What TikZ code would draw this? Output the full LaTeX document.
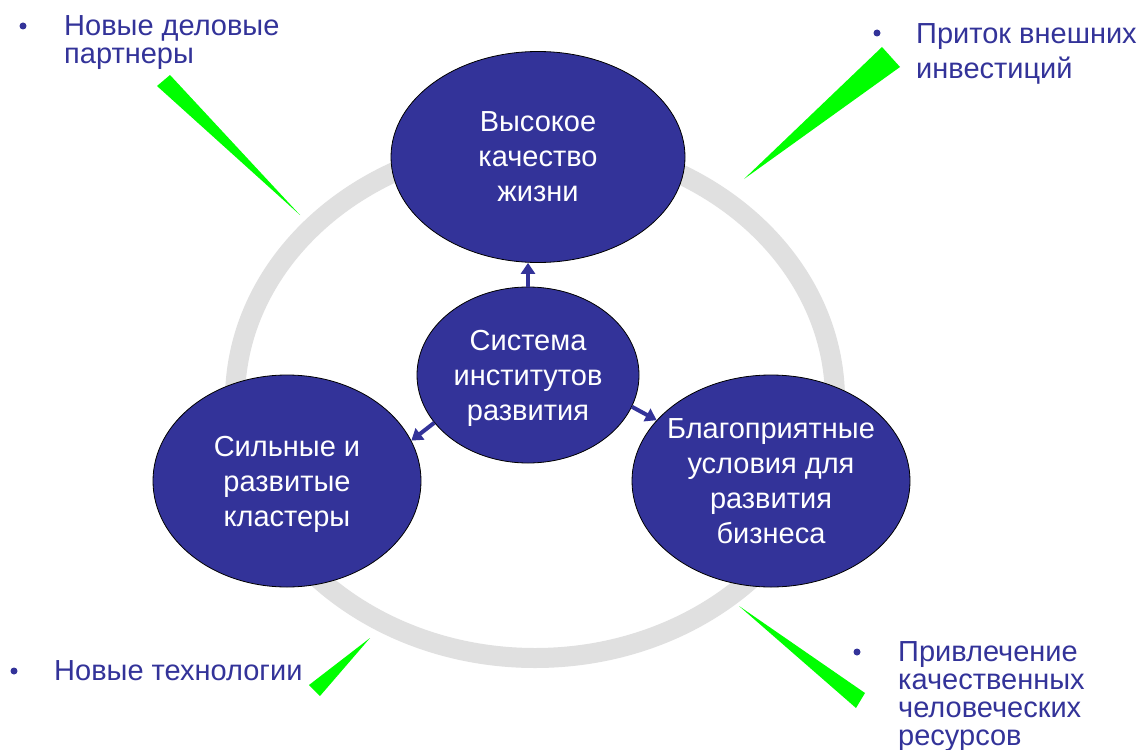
\documentclass[tikz,border=0pt]{standalone}
\usepackage{fontspec}
\setmainfont{Liberation Sans}
\usetikzlibrary{shapes.geometric,arrows.meta}
\definecolor{bubblue}{RGB}{51,51,153}
\definecolor{ringgray}{RGB}{224,224,224}
\definecolor{wedgegreen}{RGB}{0,255,0}

\begin{document}
\begin{tikzpicture}[x=1pt, y=-1pt, line join=round,
  bubble/.style={ellipse, draw=black, line width=0.8pt, fill=bubblue, inner sep=0pt},
  bubtext/.style={text=white, align=center, inner sep=0pt, text depth=0pt,
    font=\fontsize{29}{35}\selectfont},
  link/.style={draw=bubblue, line width=4pt, -{Triangle[width=14pt,length=11pt]}},
  dot/.style={circle, fill=bubblue, inner sep=0pt, minimum size=7pt},
  lbl/.style={text=bubblue, align=left, anchor=north west, inner sep=0pt}]

\useasboundingbox (0,0) rectangle (1142,749);
\fill[white] (0,0) rectangle (1142,749);

% 灰色圆环
\draw[ringgray, line width=20pt] (535,400) ellipse [x radius=300, y radius=258];

% 四个椭圆
\node[bubble, minimum width=294pt, minimum height=211pt] (life) at (538,157) {};
\node[bubble, minimum width=222pt, minimum height=176pt] (inst) at (528,375) {};
\node[bubble, minimum width=268pt, minimum height=212pt] (clusters) at (287,481) {};
\node[bubble, minimum width=278pt, minimum height=212pt] (business) at (771,481) {};

% 椭圆里的文字
\node[bubtext] (lifetxt) at (life) {Высокое\\качество\\жизни};
\node[bubtext] (insttxt) at (inst) {Система\\институтов\\развития};
\node[bubtext] (clusterstxt) at (clusters) {Сильные и\\развитые\\кластеры};
\node[bubtext] (businesstxt) at (business) {Благоприятные\\условия для\\развития\\бизнеса};

% 中心向外的箭头
\draw[link] (inst.north) -- (inst.north |- life.south);
\draw[link] (inst.207) -- (clusters.18);
\draw[link] (inst.343) -- (business.152);

% 绿色尖角
\fill[wedgegreen] (157,86) -- (170,75) -- (300,215) -- cycle;
\fill[wedgegreen] (882,47) -- (900,67) -- (744,179) -- cycle;
\fill[wedgegreen] (309,685) -- (320,696) -- (370,638) -- cycle;
\fill[wedgegreen] (865,693) -- (856,708) -- (739,606) -- cycle;

% 四角的条目
\node[dot] (b1) at (23,26) {};
\node[lbl, font=\fontsize{29}{28}\selectfont] (partners) at (64,15) {Новые деловые\\партнеры};
\node[dot] (b2) at (877,33) {};
\node[lbl, font=\fontsize{29}{35}\selectfont] (invest) at (916,23) {Приток внешних\\инвестиций};
\node[dot] (b3) at (14,671) {};
\node[lbl, font=\fontsize{29}{28}\selectfont] (tech) at (54,660) {Новые технологии};
\node[dot] (b4) at (857,652) {};
\node[lbl, font=\fontsize{29}{28}\selectfont] (people) at (898,641) {Привлечение\\качественных\\человеческих\\ресурсов};

\end{tikzpicture}
\end{document}
